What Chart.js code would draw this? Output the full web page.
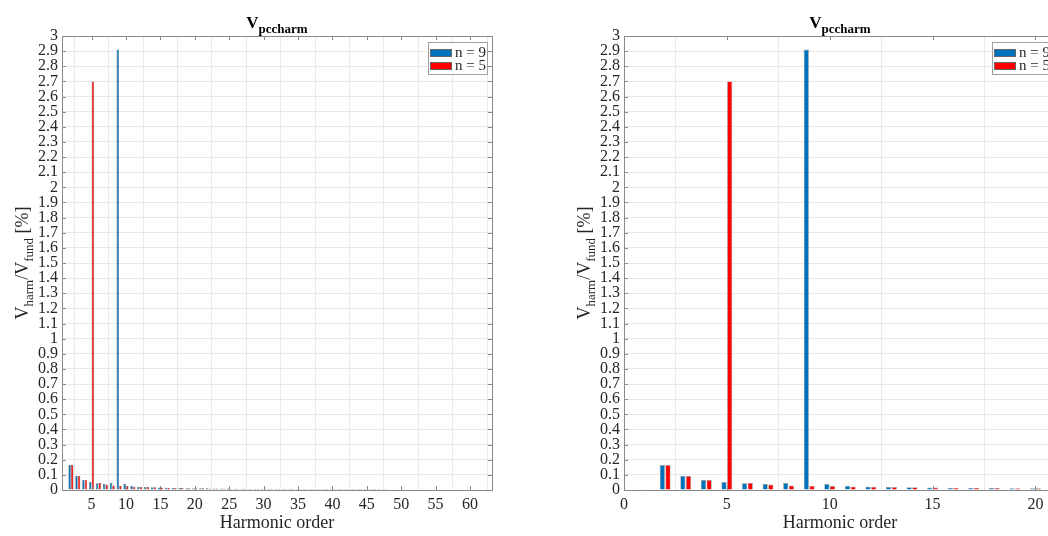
<!DOCTYPE html>
<html>
<head>
<meta charset="utf-8">
<title>V pccharm harmonic spectrum</title>
<script src="https://cdn.jsdelivr.net/npm/chart.js@4.4.1/dist/chart.umd.min.js"></script>
<style>
  html, body { margin: 0; padding: 0; background: #fff; overflow: hidden; }
  #wrap { position: relative; width: 1048px; height: 536px; overflow: hidden; }
  canvas { position: absolute; top: 0; }
  #fullChart { left: 0; }
  #zoomChart { left: 524px; }
</style>
</head>
<body>
<div id="wrap">
  <canvas id="fullChart" width="524" height="536"></canvas>
  <canvas id="zoomChart" width="560" height="536"></canvas>
</div>
<script>
// ========== 1. Data ==========
const harmonicOrder = [
  1, 2, 3, 4, 5, 6, 7, 8, 9, 10, 11, 12, 13, 14, 15, 16, 17, 18, 19, 20,
  21, 22, 23, 24, 25, 26, 27, 28, 29, 30, 31, 32, 33, 34, 35, 36, 37, 38, 39, 40,
  41, 42, 43, 44, 45, 46, 47, 48, 49, 50, 51, 52, 53, 54, 55, 56, 57, 58, 59, 60,
  61, 62, 63
];
const n9Values = [
  0.001, 0.165, 0.094, 0.066, 0.053, 0.044, 0.039, 0.046, 2.91, 0.039,
  0.028, 0.022, 0.020, 0.018, 0.017, 0.015, 0.014, 0.013, 0.012, 0.012,
  0.011, 0.011, 0.010, 0.010, 0.010, 0.009, 0.009, 0.009, 0.009, 0.008,
  0.008, 0.008, 0.008, 0.008, 0.007, 0.007, 0.007, 0.007, 0.007, 0.007,
  0.006, 0.006, 0.006, 0.006, 0.006, 0.006, 0.006, 0.006, 0.005, 0.005,
  0.005, 0.005, 0.005, 0.005, 0.005, 0.005, 0.005, 0.004, 0.004, 0.004,
  0.004, 0.004, 0.004
];
const n5Values = [
  0.001, 0.165, 0.093, 0.066, 2.70, 0.047, 0.036, 0.030, 0.028, 0.026,
  0.022, 0.021, 0.020, 0.018, 0.017, 0.015, 0.014, 0.013, 0.012, 0.011,
  0.011, 0.010, 0.010, 0.010, 0.009, 0.009, 0.009, 0.009, 0.008, 0.008,
  0.008, 0.008, 0.008, 0.007, 0.007, 0.007, 0.007, 0.007, 0.007, 0.006,
  0.006, 0.006, 0.006, 0.006, 0.006, 0.006, 0.005, 0.005, 0.005, 0.005,
  0.005, 0.005, 0.005, 0.005, 0.005, 0.005, 0.004, 0.004, 0.004, 0.004,
  0.004, 0.004, 0.004
];
const seriesLabels = ['n = 9', 'n = 5'];
const xTicksFull = [5, 10, 15, 20, 25, 30, 35, 40, 45, 50, 55, 60];
const xTicksZoom = [0, 5, 10, 15, 20];
const zoomCount = 21; // harmonics shown in the right panel

// ========== 2. Look ==========
const SERIF = '"Liberation Serif", "Times New Roman", serif';
const BLUE = '#0072BD';
const RED = '#FF0000';
const TEXT = '#262626';
const GRID = '#e9e9e9';
const AXIS = '#8a8a8a';

// draw a run of text pieces, some of them lowered as subscripts
function drawRich(ctx, parts, cx, baseY) {
  let total = 0;
  parts.forEach(p => {
    ctx.font = p.font;
    p.w = ctx.measureText(p.t).width;
    total += p.w;
  });
  let x = cx - total / 2;
  ctx.textAlign = 'left';
  ctx.textBaseline = 'alphabetic';
  parts.forEach(p => {
    ctx.font = p.font;
    ctx.fillText(p.t, x, baseY + (p.dy || 0));
    x += p.w;
  });
}

const matlabLook = {
  id: 'matlabLook',
  afterDraw(chart) {
    const ctx = chart.ctx;
    const a = chart.chartArea;
    const xs = chart.scales.x, ys = chart.scales.y;
    ctx.save();

    // box + inward ticks
    ctx.strokeStyle = AXIS;
    ctx.lineWidth = 1;
    ctx.strokeRect(Math.round(a.left) + 0.5, Math.round(a.top) + 0.5,
      Math.round(a.right - a.left), Math.round(a.bottom - a.top));
    ctx.beginPath();
    xs.ticks.forEach(t => {
      const px = Math.round(xs.getPixelForValue(t.value)) + 0.5;
      ctx.moveTo(px, a.bottom); ctx.lineTo(px, a.bottom - 4);
      ctx.moveTo(px, a.top); ctx.lineTo(px, a.top + 4);
    });
    ys.ticks.forEach(t => {
      const py = Math.round(ys.getPixelForValue(t.value)) + 0.5;
      ctx.moveTo(a.left, py); ctx.lineTo(a.left + 4, py);
      ctx.moveTo(a.right, py); ctx.lineTo(a.right - 4, py);
    });
    ctx.stroke();

    // title V_pccharm
    ctx.fillStyle = '#000';
    const cx = (a.left + a.right) / 2;
    drawRich(ctx, [
      { t: 'V', font: 'bold 17px ' + SERIF },
      { t: 'pccharm', font: 'bold 13px ' + SERIF, dy: 5 }
    ], cx, 28);

    // y label V_harm/V_fund [%]
    ctx.fillStyle = TEXT;
    ctx.save();
    ctx.translate(a.left - 34, (a.top + a.bottom) / 2);
    ctx.rotate(-Math.PI / 2);
    drawRich(ctx, [
      { t: 'V', font: '18px ' + SERIF },
      { t: 'harm', font: '13px ' + SERIF, dy: 5 },
      { t: '/V', font: '18px ' + SERIF },
      { t: 'fund', font: '13px ' + SERIF, dy: 5 },
      { t: ' [%]', font: '18px ' + SERIF }
    ], 0, 0);
    ctx.restore();

    // legend, top right inside the axes
    const bw = 59, bh = 32;
    const bx = Math.round(a.right - 5 - bw), by = Math.round(a.top + 6);
    ctx.fillStyle = '#fff';
    ctx.fillRect(bx, by, bw, bh);
    ctx.strokeStyle = '#a0a0a0';
    ctx.strokeRect(bx + 0.5, by + 0.5, bw, bh);
    chart.data.datasets.forEach((ds, i) => {
      const ry = by + 7 + i * 13;
      ctx.fillStyle = ds.backgroundColor;
      ctx.fillRect(bx + 2, ry, 22, 8);
      ctx.strokeStyle = '#666';
      ctx.strokeRect(bx + 2.5, ry + 0.5, 21, 7);
      ctx.fillStyle = TEXT;
      ctx.font = '15px ' + SERIF;
      ctx.textAlign = 'left';
      ctx.textBaseline = 'middle';
      ctx.fillText(ds.label, bx + 27, ry + 4.5);
    });
    ctx.restore();
  }
};

// ========== 3. Chart factory ==========
function makeChart(id, opts) {
  const count = opts.count;
  const toPoints = vals => harmonicOrder.slice(0, count).map((h, i) => ({ x: h, y: vals[i] }));
  return new Chart(document.getElementById(id), {
    type: 'bar',
    data: {
      datasets: [
        { label: seriesLabels[0], data: toPoints(n9Values), backgroundColor: BLUE,
          borderColor: opts.edge, borderWidth: opts.edgeWidth },
        { label: seriesLabels[1], data: toPoints(n5Values), backgroundColor: RED,
          borderColor: opts.edge, borderWidth: opts.edgeWidth }
      ]
    },
    options: {
      responsive: false,
      animation: false,
      devicePixelRatio: 1,
      categoryPercentage: opts.catPct,
      barPercentage: opts.barPct,
      layout: { padding: { top: 36, right: opts.padRight, left: 0, bottom: 0 } },
      plugins: { legend: { display: false }, title: { display: false }, tooltip: { enabled: false } },
      scales: {
        x: {
          type: 'linear',
          min: opts.xMin,
          max: opts.xMax,
          offset: false,
          grid: { color: GRID, drawTicks: false },
          border: { display: false },
          ticks: { color: TEXT, font: { family: SERIF, size: 16 }, padding: 5, autoSkip: false, maxRotation: 0 },
          afterBuildTicks: s => { s.ticks = opts.xTicks.map(v => ({ value: v })); },
          afterFit: s => { s.height = 46; },
          title: { display: true, text: 'Harmonic order', color: TEXT,
            font: { family: SERIF, size: 18 }, padding: { top: 0, bottom: 2 } }
        },
        y: {
          min: 0,
          max: 3,
          grid: { color: GRID, drawTicks: false },
          border: { display: false },
          ticks: {
            stepSize: 0.1, autoSkip: false, padding: 4, color: TEXT,
            font: { family: SERIF, size: 16 },
            callback: v => String(+v.toFixed(1))
          },
          afterFit: s => { s.width = opts.yWidth; }
        }
      }
    },
    plugins: [matlabLook]
  });
}

// ========== 4. Both panels ==========
makeChart('fullChart', {
  count: harmonicOrder.length, xMin: 0.7, xMax: 63.2, xTicks: xTicksFull,
  padRight: 32, yWidth: 62, catPct: 0.75, barPct: 0.95,
  edge: 'rgba(0,0,0,0.6)', edgeWidth: 0.6
});
makeChart('zoomChart', {
  count: zoomCount, xMin: 0, xMax: 21, xTicks: xTicksZoom,
  padRight: 28, yWidth: 100, catPct: 0.55, barPct: 0.92,
  edge: 'rgba(50,50,50,0.5)', edgeWidth: 0.7
});
</script>
</body>
</html>
